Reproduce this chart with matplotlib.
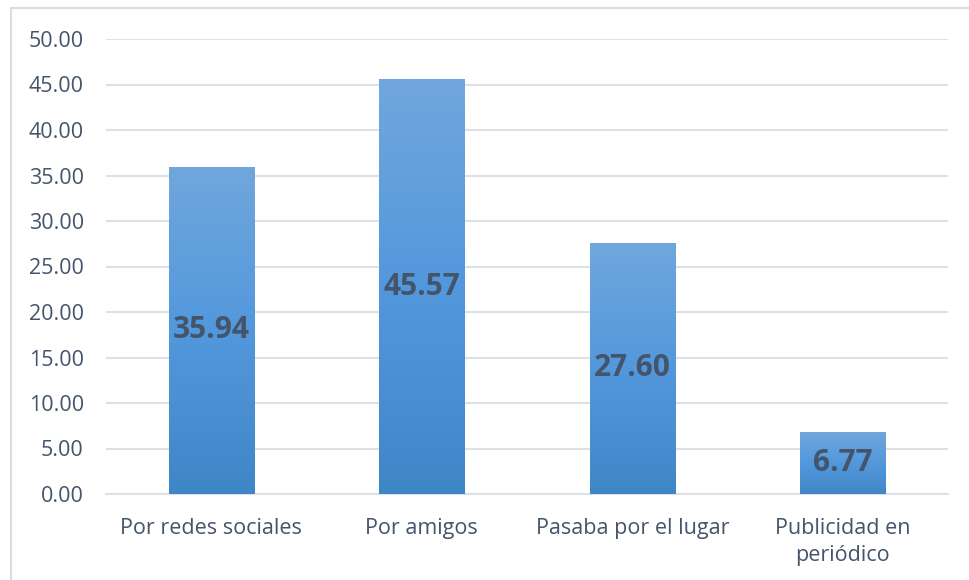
import matplotlib
matplotlib.use("Agg")
import matplotlib.pyplot as plt
import numpy as np
from matplotlib.patches import Rectangle
from matplotlib.colors import LinearSegmentedColormap

categories = ["Por redes sociales", "Por amigos", "Pasaba por el lugar", "Publicidad en\nperiódico"]
values = [35.94, 45.57, 27.60, 6.77]
yticks = [0, 5, 10, 15, 20, 25, 30, 35, 40, 45, 50]

plt.rcParams['font.family'] = ['Open Sans', 'DejaVu Sans']
text_color = "#44546A"
grid_color = "#DCE1E8"

W, H = 969, 580
fig = plt.figure(figsize=(W/100, H/100), dpi=100)
ax = fig.add_axes([106/W, 1-494/H, (948-106)/W, (494-39)/H])

# figure border
fig.patches.append(Rectangle((11/W, -0.1), 1.2, (1-8/H)+0.1, transform=fig.transFigure,
                             fill=False, edgecolor="#D9DDE3", linewidth=1.5))

x = np.arange(len(categories))
bars = ax.bar(x, values, width=0.405, color="none", zorder=3)
cmap = LinearSegmentedColormap.from_list("g", ["#3F86C7", "#5398DC", "#70A7DC"])
grad = np.linspace(0, 1, 256).reshape(-1, 1)
for b, v in zip(bars, values):
    x0 = b.get_x(); w = b.get_width()
    im = ax.imshow(grad, extent=[x0, x0 + w, 0, v], origin="lower", cmap=cmap,
                   aspect="auto", zorder=3)
    im.set_clip_path(b)
    ax.text(x0 + w/2, v/2, f"{v:.2f}", ha="center", va="center", fontsize=21.5,
            fontweight="bold", color=text_color, zorder=4)

ax.set_xlim(-0.5, len(categories) - 0.5)
ax.set_ylim(0, 50)
ax.set_yticks(yticks)
ax.set_yticklabels([f"{t:.2f}" for t in yticks], fontsize=15.5, color=text_color)
ax.set_xticks(x)
ax.set_xticklabels(categories, fontsize=15.5, color=text_color, linespacing=1.4)
ax.tick_params(length=0)
ax.tick_params(axis="x", pad=17)
ax.tick_params(axis="y", pad=16)
ax.grid(axis="y", color=grid_color, linewidth=1.5, zorder=0)
for s in ["top", "right", "left"]:
    ax.spines[s].set_visible(False)
ax.spines["bottom"].set_color(grid_color)
ax.spines["bottom"].set_linewidth(1.5)
ax.set_axisbelow(True)

fig.savefig("out.png", dpi=100)
